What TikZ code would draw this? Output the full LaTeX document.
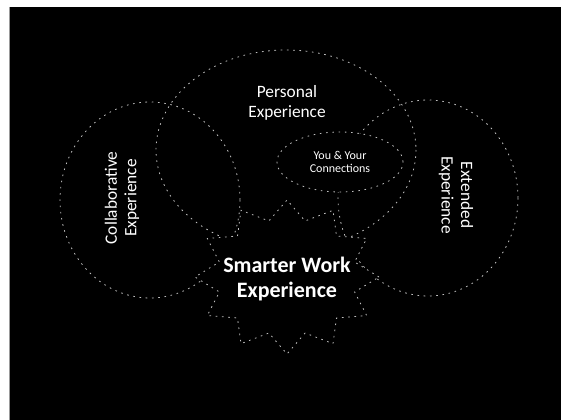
\documentclass[tikz,border=0pt]{standalone}
\usepackage{fontspec}
\setmainfont{Carlito}
\usetikzlibrary{shapes.geometric}

\begin{document}
\begin{tikzpicture}[x=0.75pt, y=-0.75pt,
  ring/.style={white!75!black, line width=0.6pt, dash pattern=on 1.2pt off 3.5pt},
  lbl/.style={text=white, align=center, inner sep=0pt, font=\fontsize{13}{14.5}\selectfont}]
\useasboundingbox (0,0) rectangle (561,420);
\fill[black] (10,7) rectangle (561,420);
\draw[black!40, line width=0.6pt] (9.5,7) -- (9.5,420);
% three experience rings
\draw[ring] (286,150) ellipse (130 and 100);
\draw[ring] (150,200) ellipse (90 and 98);
\draw[ring] (428,198) ellipse (90 and 98);
% burst in the middle, on top of the rings
\draw[ring, fill=black] plot[samples at={0,...,24}]
  ({287+(isodd(\x)?70:92)*cos(\x*15)}, {277-(isodd(\x)?58:77)*sin(\x*15)}) -- cycle;
\node[lbl] (personal) at (287,103) {Personal\\Experience};
\node[lbl, rotate=90] (collab) at (122,198) {Collaborative\\Experience};
\node[lbl, rotate=-90] (extended) at (456,195) {Extended\\Experience};
\node[ring, ellipse, draw, fill=black, minimum width=94.5pt, minimum height=45pt, text=white,
  align=center, font=\fontsize{9}{10}\selectfont] (conn) at (340,162) {You \& Your\\Connections};
\node[lbl, font=\fontsize{16.5}{19}\selectfont\bfseries] (smarter) at (287,279) {Smarter Work\\Experience};
\end{tikzpicture}
\end{document}
